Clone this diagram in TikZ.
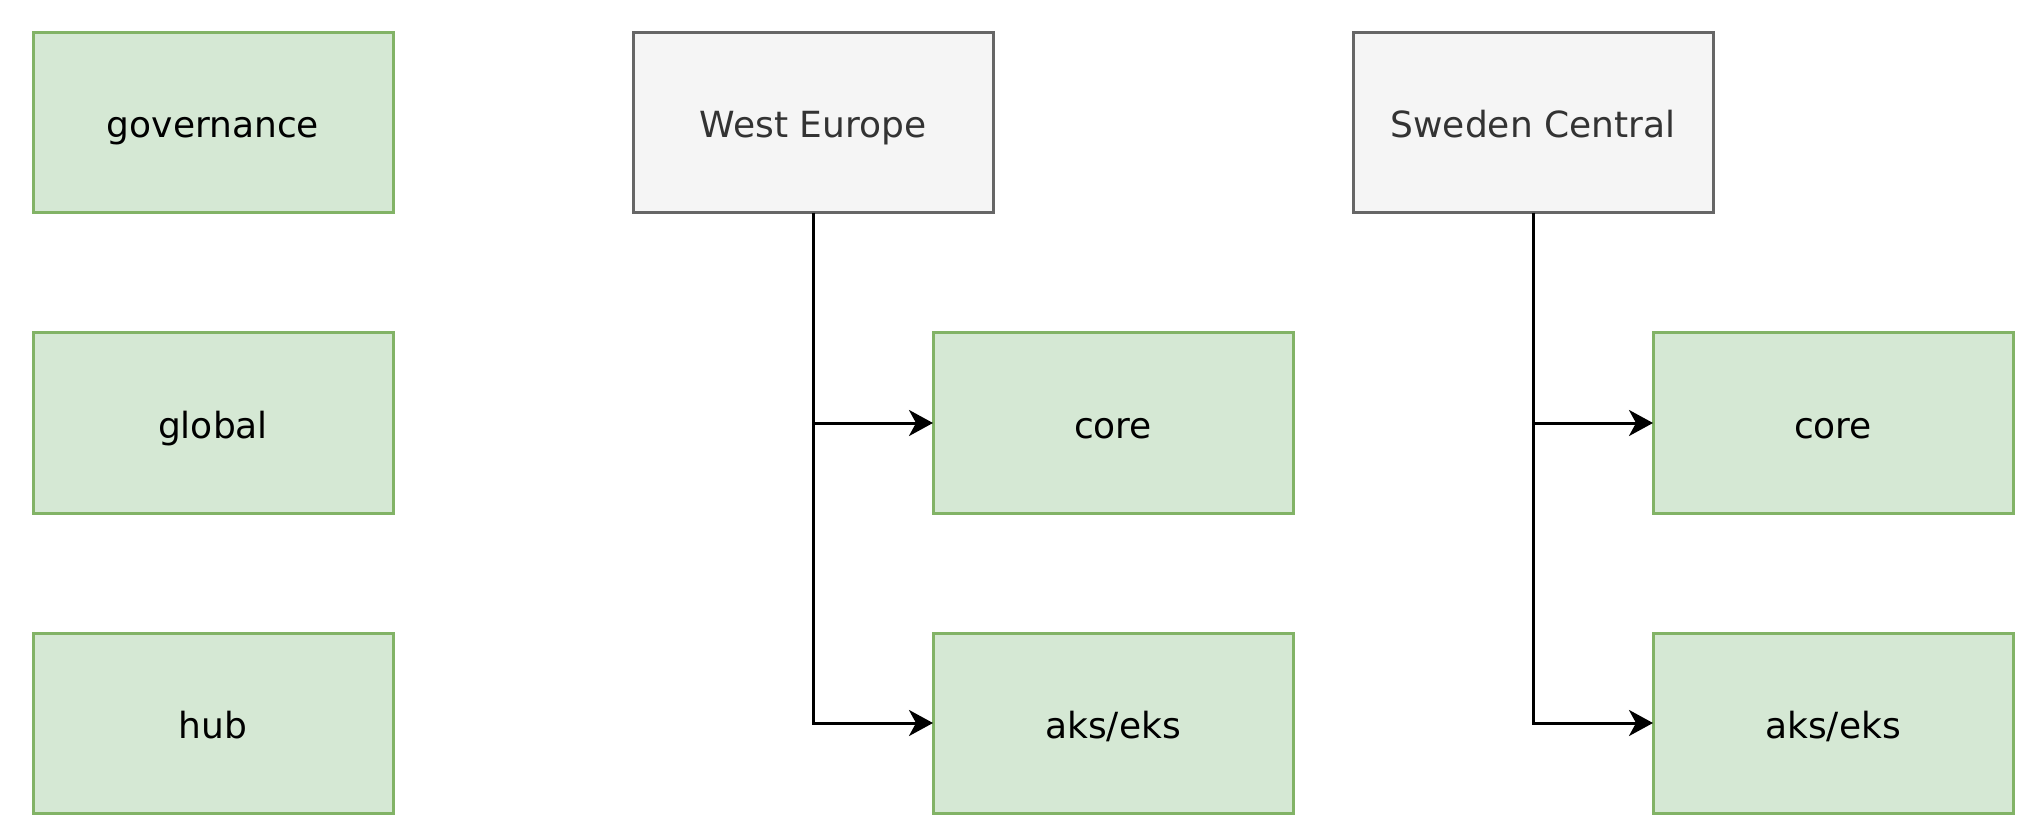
\documentclass[tikz,border=0pt]{standalone}
\usepackage{fontspec}
\setmainfont{DejaVu Sans}
\usetikzlibrary{arrows.meta}
\definecolor{gfill}{HTML}{D5E8D4}
\definecolor{gline}{HTML}{82B366}
\definecolor{rfill}{HTML}{F5F5F5}
\definecolor{rline}{HTML}{666666}
\definecolor{rtext}{HTML}{333333}
\tikzset{
  box/.style={rectangle, minimum width=360pt, minimum height=180pt, inner sep=0pt, outer sep=0pt, line width=3pt, text height=36pt, text depth=6pt, font=\fontsize{36}{43}\selectfont},
  greenbox/.style={box, draw=gline, fill=gfill, text=black},
  regionbox/.style={box, draw=rline, fill=rfill, text=rtext},
  conn/.style={line width=3pt, draw=black, -{Stealth[length=24pt, width=26pt, inset=7pt]}}
}
\begin{document}
\begin{tikzpicture}[x=1pt, y=-1pt]
\useasboundingbox (0,0) rectangle (2027,826);
\node[greenbox] (gov) at (213,123) {governance};
\node[greenbox] (glob) at (213,423) {global};
\node[greenbox] (hub) at (213,723) {hub};
\node[regionbox] (we) at (813,123) {West Europe};
\node[greenbox] (wecore) at (1113,423) {core};
\node[greenbox] (weaks) at (1113,723) {aks/eks};
\node[regionbox] (sc) at (1533,123) {Sweden Central};
\node[greenbox] (sccore) at (1833,423) {core};
\node[greenbox] (scaks) at (1833,723) {aks/eks};
\draw[conn] (we.south) |- (wecore.west);
\draw[conn] (we.south) |- (weaks.west);
\draw[conn] (sc.south) |- (sccore.west);
\draw[conn] (sc.south) |- (scaks.west);
\end{tikzpicture}
\end{document}
